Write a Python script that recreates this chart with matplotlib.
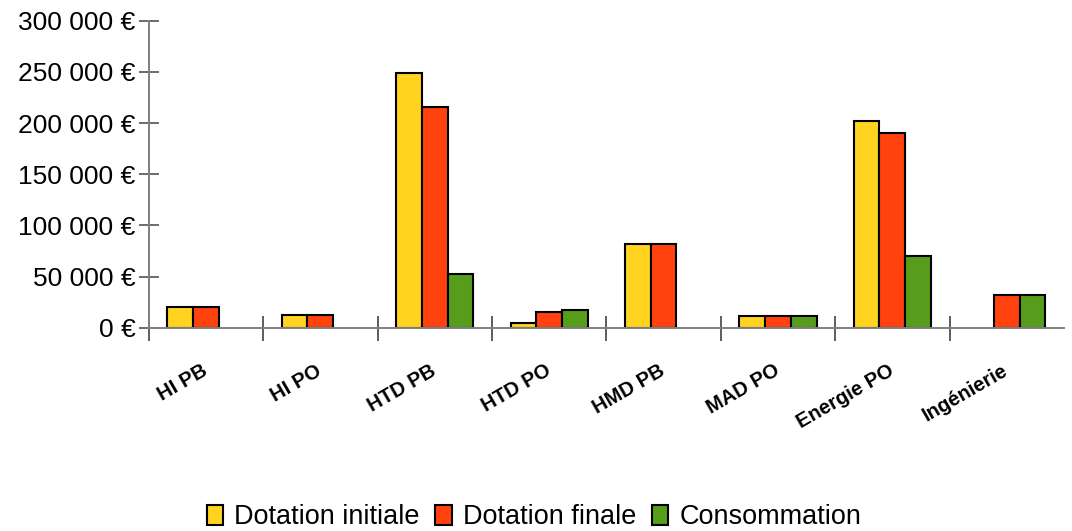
import numpy as np
import matplotlib
matplotlib.use('Agg')
import matplotlib.pyplot as plt
from matplotlib.ticker import FuncFormatter, FixedLocator

plt.rcParams['font.family'] = ['Liberation Sans', 'DejaVu Sans']

categories = ['HI PB', 'HI PO', 'HTD PB', 'HTD PO', 'HMD PB', 'MAD PO', 'Energie PO', 'Ingénierie']
dotation_initiale = [20500, 12000, 248500, 4300, 81500, 11000, 202000, 0]
dotation_finale = [20500, 12000, 216000, 15600, 81500, 11000, 190500, 32200]
consommation = [0, 0, 52500, 17600, 0, 11000, 70000, 32200]
series_names = ['Dotation initiale', 'Dotation finale', 'Consommation']
colors = ['#ffd320', '#ff420e', '#579d1c']

fig = plt.figure(figsize=(10.72, 5.31), dpi=100)
ax = fig.add_axes([0.1387, 0.3829, 0.9925 - 0.1387, 0.961 - 0.3829])

x = np.arange(len(categories))
width = 0.225
for i, (vals, name, col) in enumerate(zip([dotation_initiale, dotation_finale, consommation], series_names, colors)):
    vals = np.array(vals, dtype=float)
    keep = vals > 0
    ax.bar(x[keep] + (i - 1) * width, vals[keep], width, color=col, edgecolor='black',
           linewidth=1.5, label=name, zorder=3)

ax.set_xlim(-0.5, 7.5)
ax.set_ylim(0, 300000)
ax.set_yticks(np.arange(0, 300001, 50000))
ax.yaxis.set_major_formatter(FuncFormatter(lambda v, p: '{:,}'.format(int(v)).replace(',', ' ') + ' €'))
ax.tick_params(axis='y', direction='inout', length=15, width=1.1, color='#444444',
               labelsize=19, pad=2)

ax.set_xticks(x)
ax.set_xticklabels(categories, rotation=30, ha='right', va='center', rotation_mode='anchor',
                   fontweight='bold', fontsize=14.5)
ax.tick_params(axis='x', which='major', length=0, pad=30)
ax.xaxis.set_minor_locator(FixedLocator(np.arange(-0.5, 7.0, 1.0)))
ax.tick_params(axis='x', which='minor', direction='inout', length=18, width=1.1, color='#333333')

for s in ['top', 'right']:
    ax.spines[s].set_visible(False)
for s in ['left', 'bottom']:
    ax.spines[s].set_color('#808080')
    ax.spines[s].set_linewidth(1.4)
    ax.spines[s].set_zorder(4)

fig.legend(loc='center', bbox_to_anchor=(0.498, 0.026), ncol=3, frameon=False,
           fontsize=19.5, handlelength=0.6, handleheight=0.75, handletextpad=0.4,
           columnspacing=0.6, borderpad=0)

plt.savefig('out.png', dpi=100)
